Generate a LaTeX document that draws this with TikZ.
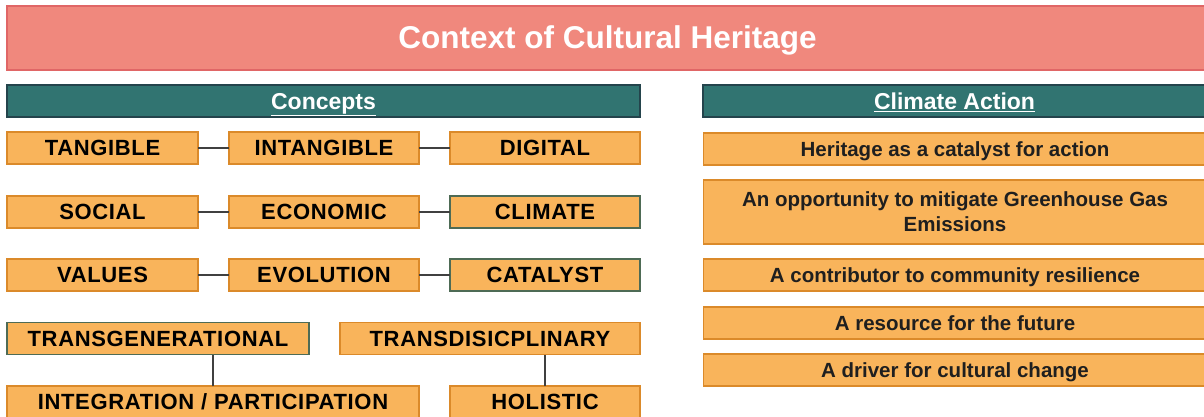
\documentclass[tikz,border=0pt]{standalone}
\usepackage{fontspec}
\setmainfont{Liberation Sans}
\definecolor{salmon}{HTML}{F0887D}
\definecolor{salmonline}{HTML}{E06666}
\definecolor{teal}{HTML}{317471}
\definecolor{tealline}{HTML}{24444C}
\definecolor{orfill}{HTML}{F9B45B}
\definecolor{orline}{HTML}{DB8A2A}
\definecolor{grline}{HTML}{4E6B55}
\definecolor{conn}{HTML}{404040}
\tikzset{
  titlebox/.style={draw=salmonline, fill=salmon, line width=1.2pt, text=white, font=\bfseries\fontsize{31.5}{34}\selectfont, inner sep=0pt, outer sep=0pt, text height=22.5pt, text depth=0pt},
  headbox/.style={draw=tealline, fill=teal, line width=1.2pt, text=white, font=\bfseries\fontsize{23}{26}\selectfont, inner sep=0pt, outer sep=0pt, text height=16.5pt, text depth=0pt, minimum height=32pt},
  cbox/.style={draw=orline, fill=orfill, line width=1.4pt, text=black, font=\bfseries\fontsize{22}{25}\selectfont\addfontfeature{LetterSpace=3}, inner sep=0pt, outer sep=0pt, minimum height=32pt, text height=15.8pt, text depth=0pt},
  gbox/.style={cbox, draw=grline},
  abox/.style={draw=orline, fill=orfill, line width=1.4pt, text=black!88, font=\bfseries\fontsize{20.5}{25}\selectfont, inner sep=0pt, outer sep=0pt, minimum height=32pt, minimum width=503pt, align=center, text height=14.7pt, text depth=0pt},
  link/.style={draw=conn, line width=1.5pt}
}
\begin{document}
\begin{tikzpicture}[x=1pt,y=-1pt]
\useasboundingbox (0,0) rectangle (1204,417);
\clip (0,0) rectangle (1204,417);
\fill[white] (0,0) rectangle (1204,417);
% title
\node[titlebox, minimum width=1200pt, minimum height=64pt, anchor=north west] (title) at (7,6) {};
\node[titlebox, draw=none, fill=none] (titletext) at (607.5,37.5) {Context of Cultural Heritage};
% headers
\node[headbox, minimum width=633pt, anchor=north west] (concepts) at (7,85) {\underline{Concepts}};
\node[headbox, minimum width=503pt, anchor=north west] (climate) at (703,85) {\underline{Climate Action}};
% concepts rows
\node[cbox, minimum width=191pt] (tangible) at (102.5,148) {TANGIBLE};
\node[cbox, minimum width=190pt] (intangible) at (324,148) {INTANGIBLE};
\node[cbox, minimum width=190pt] (digital) at (545,148) {DIGITAL};
\node[cbox, minimum width=191pt] (social) at (102.5,212) {SOCIAL};
\node[cbox, minimum width=190pt] (economic) at (324,212) {ECONOMIC};
\node[gbox, minimum width=190pt] (climatec) at (545,212) {CLIMATE};
\node[cbox, minimum width=191pt] (values) at (102.5,275) {VALUES};
\node[cbox, minimum width=190pt] (evolution) at (324,275) {EVOLUTION};
\node[gbox, minimum width=190pt] (catalyst) at (545,275) {CATALYST};
\node[gbox, minimum width=302pt] (transgen) at (158,338.5) {TRANSGENERATIONAL};
\node[cbox, minimum width=300pt] (transdisc) at (490,338.5) {TRANSDISICPLINARY};
\node[cbox, minimum width=412pt] (integ) at (213,402) {INTEGRATION / PARTICIPATION};
\node[cbox, minimum width=190pt] (holistic) at (545,402) {HOLISTIC};
% connectors
\draw[link] (tangible.east) -- (intangible.west);
\draw[link] (intangible.east) -- (digital.west);
\draw[link] (social.east) -- (economic.west);
\draw[link] (economic.east) -- (climatec.west);
\draw[link] (values.east) -- (evolution.west);
\draw[link] (evolution.east) -- (catalyst.west);
\draw[link] (integ.north) -- (integ.north |- transgen.south);
\draw[link] (holistic.north) -- (holistic.north |- transdisc.south);
% climate action
\node[abox] (a1) at (955,149) {Heritage as a catalyst for action};
\node[abox, minimum height=64pt, text height=39.7pt, text depth=0pt] (a2) at (955,212) {An opportunity to mitigate Greenhouse Gas\\Emissions};
\node[abox] (a3) at (955,275) {A contributor to community resilience};
\node[abox] (a4) at (955,323) {A resource for the future};
\node[abox] (a5) at (955,370) {A driver for cultural change};
\end{tikzpicture}
\end{document}
